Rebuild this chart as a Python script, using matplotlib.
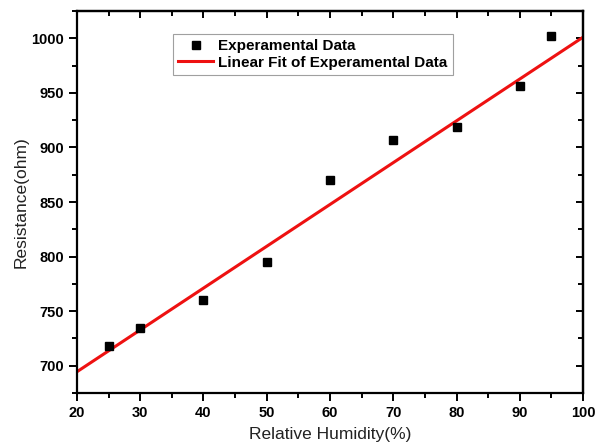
import matplotlib
matplotlib.use('Agg')
import matplotlib.pyplot as plt
from matplotlib.ticker import MultipleLocator

plt.rcParams['font.family'] = ['Liberation Sans', 'DejaVu Sans']

# measured data
humidity = [25, 30, 40, 50, 60, 70, 80, 90, 95]
resistance = [718, 735, 760, 795, 870, 907, 919, 956, 1002]

# linear fit line as drawn in the figure
fit_x = [20, 100]
fit_y = [694.5, 1001]

fig = plt.figure(figsize=(6, 4.46), dpi=100)
ax = fig.add_axes([0.1283, 0.1188, 0.8434, 0.8565])

ax.plot(humidity, resistance, 's', color='black', markersize=6, label='Experamental Data', zorder=3)
ax.plot(fit_x, fit_y, '-', color='#ee1111', linewidth=2.2, label='Linear Fit of Experamental Data')

ax.set_xlim(20, 100)
ax.set_ylim(675, 1025)
ax.xaxis.set_major_locator(MultipleLocator(10))
ax.xaxis.set_minor_locator(MultipleLocator(5))
ax.yaxis.set_major_locator(MultipleLocator(50))
ax.yaxis.set_minor_locator(MultipleLocator(25))

for s in ax.spines.values():
    s.set_linewidth(1.6)

ax.tick_params(which='both', direction='out', width=1.4, labelsize=10.5)
ax.tick_params(which='major', length=6)
ax.tick_params(which='minor', length=3.5)
for lab in ax.get_xticklabels() + ax.get_yticklabels():
    lab.set_fontweight('bold')

# mirrored inward ticks on top and right
axt = ax.secondary_xaxis('top')
axt.xaxis.set_major_locator(MultipleLocator(10))
axt.xaxis.set_minor_locator(MultipleLocator(5))
axt.tick_params(which='both', direction='in', width=1.4, labeltop=False)
axt.tick_params(which='major', length=5)
axt.tick_params(which='minor', length=3.5)
axr = ax.secondary_yaxis('right')
axr.yaxis.set_major_locator(MultipleLocator(50))
axr.yaxis.set_minor_locator(MultipleLocator(25))
axr.tick_params(which='both', direction='in', width=1.4, labelright=False)
axr.tick_params(which='major', length=5)
axr.tick_params(which='minor', length=3.5)
axt.spines['top'].set_linewidth(1.6)
axr.spines['right'].set_linewidth(1.6)

ax.set_xlabel('Relative Humidity(%)', fontsize=12.5, color='#222222', labelpad=5)
ax.set_ylabel('Resistance(ohm)', fontsize=12.5, color='#222222', labelpad=2)

leg = ax.legend(loc='upper left', bbox_to_anchor=(0.189, 0.94), borderaxespad=0,
                fancybox=False, frameon=True, edgecolor='#888888',
                prop={'weight': 'bold', 'size': 11}, handlelength=2.3,
                borderpad=0.35, labelspacing=0.15, handletextpad=0.35)
leg.get_frame().set_linewidth(0.8)

plt.savefig('out.png', dpi=100)
